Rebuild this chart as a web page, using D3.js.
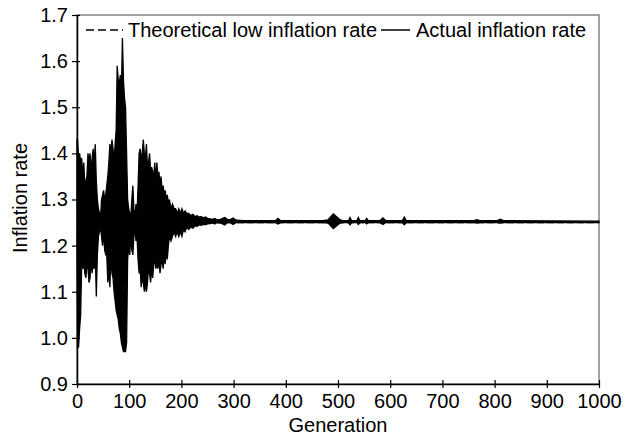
<!DOCTYPE html>
<html>
<head>
<meta charset="utf-8">
<script src="https://cdn.jsdelivr.net/npm/d3@7"></script>
<style>
    body { margin: 0; background: #fff; }
    text { font-family: "Liberation Sans", Arial, Helvetica, sans-serif; fill: #000; }
</style>
</head>
<body>
<svg id="chart"></svg>
<script>
// Generation at which the envelope of the simulated inflation rate was read
const generations = [
    0, 1, 3, 5, 7, 9, 11, 13, 15, 17, 19, 21, 23, 25, 27, 29, 31, 33, 35, 37, 39,
    41, 43, 45, 47, 49, 51, 53, 55, 57, 59, 61, 63, 65, 67, 69, 71, 73, 75, 77, 79,
    81, 83, 85, 87, 89, 91, 93, 95, 97, 99, 101, 103, 105, 107, 109, 111, 113, 115, 117, 119,
    121, 123, 125, 127, 129, 131, 133, 135, 137, 139, 141, 143, 145, 147, 149, 151, 153, 155, 157, 159,
    161, 163, 165, 167, 169, 171, 173, 175, 177, 180, 183, 186, 189, 192, 195, 198, 201, 204, 207, 210,
    214, 218, 222, 226, 230, 234, 238, 242, 246, 250, 255, 260, 264, 268, 275, 283, 288, 293, 299, 305,
    320, 380, 385, 390, 470, 481, 491, 504, 510, 520, 523, 526, 536, 539, 542, 552, 555, 558, 580, 586,
    592, 623, 627, 631, 760, 766, 772, 805, 811, 817, 1000
];

// Upper edge of the oscillating actual inflation rate
const upperRate = [
    1.43, 1.43, 1.39, 1.40, 1.38, 1.39, 1.35, 1.38, 1.33, 1.34, 1.35, 1.40, 1.38, 1.40, 1.36, 1.39, 1.41, 1.38, 1.42, 1.34, 1.30,
    1.28, 1.27, 1.26, 1.30, 1.31, 1.32, 1.30, 1.31, 1.33, 1.35, 1.38, 1.42, 1.40, 1.43, 1.41, 1.38, 1.42, 1.45, 1.59, 1.56,
    1.55, 1.57, 1.53, 1.65, 1.56, 1.52, 1.50, 1.40, 1.30, 1.28, 1.27, 1.26, 1.30, 1.33, 1.28, 1.26, 1.29, 1.27, 1.33, 1.40,
    1.41, 1.39, 1.40, 1.43, 1.40, 1.39, 1.42, 1.37, 1.38, 1.40, 1.36, 1.37, 1.36, 1.35, 1.38, 1.34, 1.38, 1.35, 1.36, 1.33,
    1.35, 1.32, 1.33, 1.31, 1.32, 1.30, 1.31, 1.29, 1.30, 1.28, 1.29, 1.28, 1.28, 1.27, 1.28, 1.27, 1.28, 1.27, 1.275, 1.27,
    1.27, 1.265, 1.268, 1.263, 1.265, 1.262, 1.263, 1.26, 1.262, 1.259, 1.258, 1.257, 1.259, 1.256, 1.257, 1.261, 1.257, 1.256, 1.26, 1.255,
    1.254, 1.254, 1.259, 1.254, 1.254, 1.256, 1.269, 1.256, 1.254, 1.254, 1.261, 1.254, 1.254, 1.261, 1.254, 1.254, 1.259, 1.254, 1.254, 1.26,
    1.254, 1.254, 1.262, 1.254, 1.254, 1.256, 1.254, 1.254, 1.257, 1.254, 1.253
];

// Lower edge of the oscillating actual inflation rate
const lowerRate = [
    1.20, 0.98, 0.98, 1.02, 1.05, 1.16, 1.15, 1.16, 1.14, 1.13, 1.16, 1.15, 1.12, 1.13, 1.17, 1.14, 1.16, 1.15, 1.18, 1.09, 1.18,
    1.22, 1.23, 1.24, 1.22, 1.20, 1.23, 1.19, 1.18, 1.18, 1.12, 1.15, 1.11, 1.18, 1.14, 1.13, 1.10, 1.08, 1.06, 1.05, 1.04,
    1.02, 1.01, 0.99, 0.98, 0.97, 0.97, 0.97, 0.99, 1.17, 1.20, 1.18, 1.22, 1.19, 1.18, 1.22, 1.24, 1.21, 1.22, 1.17, 1.14,
    1.15, 1.11, 1.13, 1.12, 1.10, 1.12, 1.10, 1.12, 1.15, 1.14, 1.12, 1.15, 1.13, 1.16, 1.17, 1.15, 1.16, 1.15, 1.17, 1.14,
    1.16, 1.17, 1.15, 1.18, 1.16, 1.19, 1.17, 1.20, 1.22, 1.21, 1.22, 1.23, 1.22, 1.23, 1.22, 1.23, 1.22, 1.235, 1.23, 1.24,
    1.235, 1.24, 1.238, 1.243, 1.242, 1.245, 1.244, 1.246, 1.245, 1.247, 1.248, 1.249, 1.247, 1.25, 1.249, 1.245, 1.25, 1.25, 1.246, 1.25,
    1.25, 1.25, 1.247, 1.25, 1.25, 1.249, 1.237, 1.249, 1.25, 1.25, 1.245, 1.25, 1.25, 1.246, 1.25, 1.25, 1.247, 1.25, 1.25, 1.246,
    1.25, 1.25, 1.245, 1.25, 1.25, 1.249, 1.25, 1.25, 1.249, 1.25, 1.25
];

const theoreticalRate = 1.25;

const xTicks = [0, 100, 200, 300, 400, 500, 600, 700, 800, 900, 1000];
const yTicks = [0.9, 1.0, 1.1, 1.2, 1.3, 1.4, 1.5, 1.6, 1.7];
const legendLabels = ["Theoretical low inflation rate", "Actual inflation rate"];

function createInflationChart() {
    const totalWidth = 630, totalHeight = 443;
    const margin = {top: 15, right: 31, bottom: 59, left: 77};
    const width = totalWidth - margin.left - margin.right;
    const height = totalHeight - margin.top - margin.bottom;

    const root = d3.select("#chart")
        .attr("width", totalWidth)
        .attr("height", totalHeight);

    const svg = root.append("g")
        .attr("transform", `translate(${margin.left},${margin.top})`);

    const x = d3.scaleLinear().domain([0, 1000]).range([0, width]);
    const y = d3.scaleLinear().domain([0.9, 1.7]).range([height, 0]);

    const series = generations.map((g, i) => ({gen: g, hi: upperRate[i], lo: lowerRate[i]}));

    // Frame (top and right edges are lighter in the original scan)
    svg.append("rect")
        .attr("width", width)
        .attr("height", height)
        .attr("fill", "none")
        .attr("stroke", "#444")
        .attr("stroke-width", 1);

    // Theoretical rate, dashed, mostly hidden under the actual rate
    svg.append("line")
        .attr("x1", x(0)).attr("x2", x(1000))
        .attr("y1", y(theoreticalRate)).attr("y2", y(theoreticalRate))
        .attr("stroke", "#000")
        .attr("stroke-width", 1.5)
        .attr("stroke-dasharray", "7 3");

    // Actual rate: the period-2 oscillation reads as a filled band
    const band = d3.area()
        .x(d => x(d.gen))
        .y0(d => y(d.lo))
        .y1(d => y(d.hi));

    svg.append("path")
        .datum(series)
        .attr("fill", "#000")
        .attr("stroke", "#000")
        .attr("stroke-width", 1.3)
        .attr("stroke-linejoin", "miter")
        .attr("d", band);

    // Axes with ticks crossing the axis line
    const xAxis = d3.axisBottom(x)
        .tickValues(xTicks)
        .tickSizeInner(4)
        .tickSizeOuter(0)
        .tickPadding(6)
        .tickFormat(d3.format("d"));

    const gx = svg.append("g")
        .attr("transform", `translate(0,${height})`)
        .call(xAxis);
    gx.select(".domain").attr("stroke", "#000").attr("stroke-width", 1.5);
    gx.selectAll(".tick line").attr("y1", -4).attr("stroke-width", 1.2);
    gx.selectAll("text")
        .style("font-size", "20px")
        .attr("fill", "#000")
        .attr("font-family", "Liberation Sans, Arial, sans-serif");

    const yAxis = d3.axisLeft(y)
        .tickValues(yTicks)
        .tickSizeInner(5)
        .tickSizeOuter(0)
        .tickPadding(4)
        .tickFormat(d3.format(".1f"));

    const gy = svg.append("g").call(yAxis);
    gy.select(".domain").attr("stroke", "#000").attr("stroke-width", 1.5);
    gy.selectAll(".tick line").attr("x1", 3).attr("stroke-width", 1.2);
    gy.selectAll("text")
        .style("font-size", "20px")
        .attr("fill", "#000")
        .attr("font-family", "Liberation Sans, Arial, sans-serif");

    // Legend inside the top of the plot
    const legend = svg.append("g").attr("transform", "translate(9,15)");
    legend.append("line")
        .attr("x1", 0).attr("x2", 37)
        .attr("stroke", "#000").attr("stroke-width", 1.5)
        .attr("stroke-dasharray", "8 4");
    legend.append("text")
        .attr("x", 42).attr("y", 7)
        .style("font-size", "20px")
        .text(legendLabels[0]);
    legend.append("line")
        .attr("x1", 295).attr("x2", 324)
        .attr("stroke", "#000").attr("stroke-width", 1.5);
    legend.append("text")
        .attr("x", 330).attr("y", 7)
        .style("font-size", "20px")
        .text(legendLabels[1]);

    // Axis titles
    svg.append("text")
        .attr("x", width / 2)
        .attr("y", height + 48)
        .attr("text-anchor", "middle")
        .style("font-size", "20px")
        .text("Generation");

    svg.append("text")
        .attr("transform", "rotate(-90)")
        .attr("x", -183)
        .attr("y", -50)
        .attr("text-anchor", "middle")
        .style("font-size", "20px")
        .text("Inflation rate");
}

createInflationChart();
</script>
</body>
</html>
